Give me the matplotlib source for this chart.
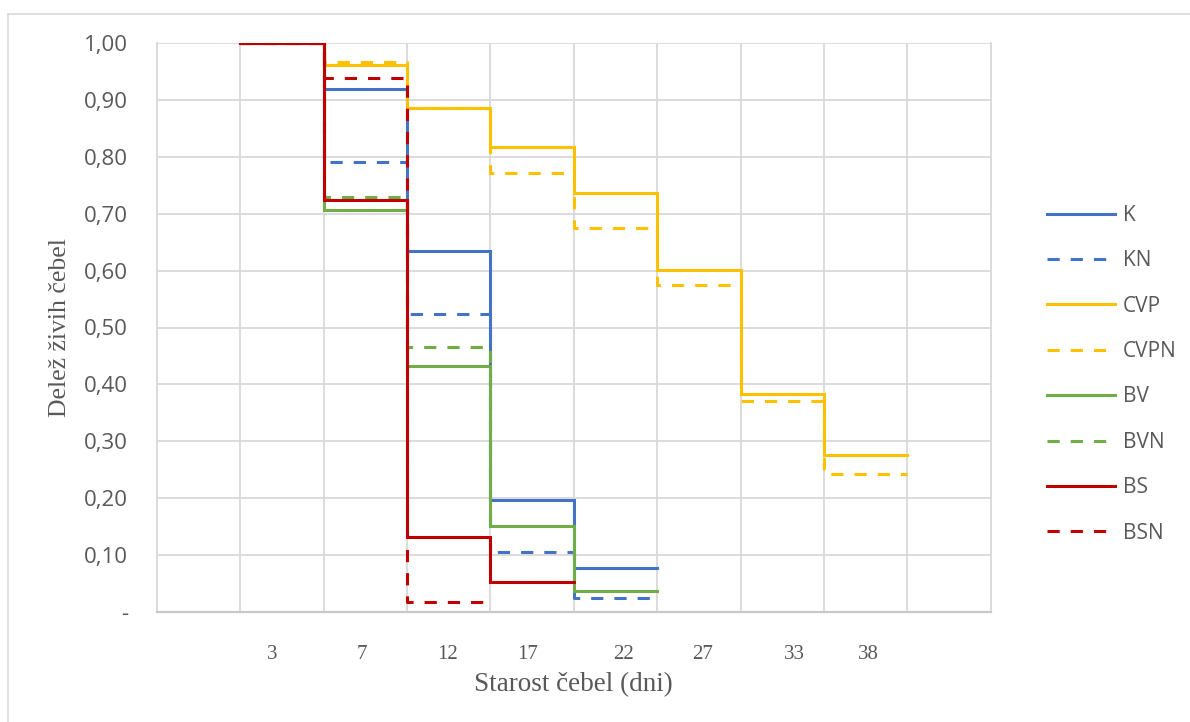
import numpy as np
import matplotlib
matplotlib.use('Agg')
import matplotlib.pyplot as plt
from matplotlib.lines import Line2D
from matplotlib.ticker import FuncFormatter

# podatki: delež živih čebel po intervalih (stopnice)
K = [1.00, 0.920, 0.635, 0.197, 0.078]
KN = [1.00, 0.791, 0.523, 0.106, 0.025]
CVP = [1.00, 0.961, 0.885, 0.818, 0.736, 0.601, 0.384, 0.276]
CVPN = [1.00, 0.967, 0.885, 0.771, 0.675, 0.575, 0.371, 0.242]
BV = [1.00, 0.707, 0.432, 0.152, 0.037]
BVN = [1.00, 0.730, 0.465, 0.053]
BS = [1.00, 0.724, 0.131, 0.053]
BSN = [1.00, 0.939, 0.018]

series_names = ['K', 'KN', 'CVP', 'CVPN', 'BV', 'BVN', 'BS', 'BSN']
series_values = [K, KN, CVP, CVPN, BV, BVN, BS, BSN]

day_labels = ['3', '7', '12', '17', '22', '27', '33', '38']
label_pos = [1.383, 2.459, 3.487, 4.446, 5.59, 6.545, 7.65, 8.537]

# barve in slogi
colors = {'K': '#4472C4', 'KN': '#4472C4', 'CVP': '#FFC000', 'CVPN': '#FFC000',
          'BV': '#70AD47', 'BVN': '#70AD47', 'BS': '#C00000', 'BSN': '#C00000'}
grid_col = '#D9D9D9'
text_col = '#595959'
sans = ['Open Sans', 'DejaVu Sans']
serif = ['Liberation Serif', 'DejaVu Serif']

fig = plt.figure(figsize=(11.9, 7.22), dpi=100)
ax = fig.add_axes([157 / 1190, 1 - 612 / 722, 833.7 / 1190, 569 / 722])

for name, vals in zip(series_names, series_values):
    x = np.arange(1, len(vals) + 2)
    y = np.append(vals, vals[-1])
    dashed = name.endswith('N')
    ax.plot(x, y, drawstyle='steps-post', color=colors[name], lw=2.2,
            linestyle=(0, (4, 3.6)) if dashed else '-',
            solid_joinstyle='miter', label=name, zorder=3)

ax.set_xlim(0, 10)
ax.set_ylim(0, 1.0)

# mreža
ax.set_xticks(np.arange(0, 11), minor=True)
ax.set_xticks(label_pos)
ax.set_xticklabels(day_labels, fontfamily=serif, fontsize=15, color=text_col)
ax.set_yticks(np.arange(0, 1.01, 0.1))
ax.yaxis.set_major_formatter(FuncFormatter(
    lambda v, p: '-' if abs(v) < 1e-9 else f'{v:.2f}'.replace('.', ',')))
for lab in ax.get_yticklabels():
    lab.set_fontfamily(sans)
ax.tick_params(axis='y', length=0, pad=21, labelsize=16, labelcolor=text_col)
ax.tick_params(axis='x', which='both', length=0, pad=24)
ax.grid(axis='y', which='major', color=grid_col, lw=1.3, zorder=0)
ax.grid(axis='x', which='minor', color=grid_col, lw=1.3, zorder=0)
ax.grid(axis='x', which='major', visible=False)
ax.set_axisbelow(True)

for side in ['left', 'right']:
    ax.spines[side].set_color(grid_col)
    ax.spines[side].set_linewidth(1.3)
ax.spines['bottom'].set_color('#C8C8C8')
ax.spines['bottom'].set_linewidth(1.6)
ax.spines['top'].set_visible(False)

ax.set_xlabel('Starost čebel (dni)', fontfamily=serif, fontsize=19.5, color=text_col)
ax.xaxis.set_label_coords(0.5, -(685 - 612) / 569)
ax.xaxis.label.set_va('center')
ax.set_ylabel('Delež živih čebel', fontfamily=serif, fontsize=18.5, color=text_col)
ax.yaxis.set_label_coords((60 - 157) / 833.7, 0.5)
ax.yaxis.label.set_va('center')

leg = ax.legend(loc='upper left', bbox_to_anchor=(1047 / 1190, 1 - 205 / 722),
                bbox_transform=fig.transFigure, frameon=False, borderpad=0,
                borderaxespad=0, handlelength=3.27, handletextpad=0.38,
                labelspacing=1.17, prop={'family': sans, 'size': 15})
for t in leg.get_texts():
    t.set_color(text_col)

# okvir grafikona (levo in zgoraj)
fig.add_artist(Line2D([8 / 1190, 8 / 1190], [0, 1 - 14 / 722], color=grid_col, lw=1.2))
fig.add_artist(Line2D([8 / 1190, 1], [1 - 14 / 722, 1 - 14 / 722], color=grid_col, lw=1.2))

fig.savefig('out.png', dpi=100)
